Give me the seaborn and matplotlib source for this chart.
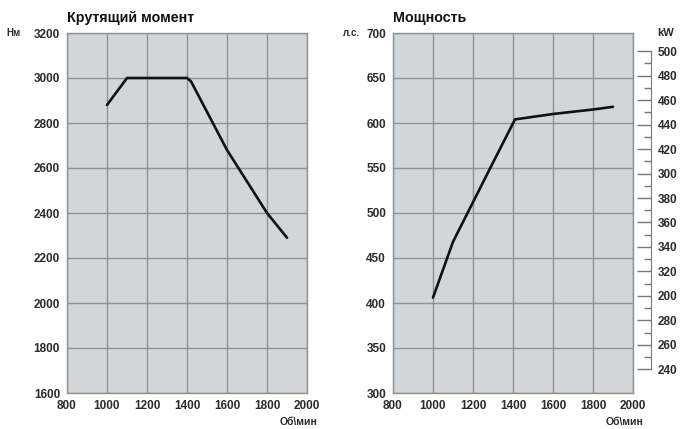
import numpy as np
import pandas as pd
import matplotlib
matplotlib.use("Agg")
import matplotlib.pyplot as plt
import seaborn as sns

# torque curve
torque_rpm = [1000, 1100, 1400, 1420, 1600, 1800, 1900]
torque_nm = [2880, 3000, 3000, 2985, 2680, 2400, 2290]

# power curve (hp)
power_rpm = [1000, 1100, 1200, 1300, 1410, 1600, 1800, 1900]
power_hp = [406, 468, 512, 556, 604, 610, 615, 618]

x_ticks = [800, 1000, 1200, 1400, 1600, 1800, 2000]
torque_ticks = [1600, 1800, 2000, 2200, 2400, 2600, 2800, 3000, 3200]
power_ticks = [300, 350, 400, 450, 500, 550, 600, 650, 700]
kw_ticks = [240, 260, 280, 300, 320, 340, 360, 380, 400, 420, 440, 460, 480, 500]
kw_labels = ["240", "260", "280", "200", "320", "340", "360", "380", "300",
             "420", "440", "460", "480", "500"]
HP_TO_KW = 0.7355

sns.set_style("white")
plt.rcParams['font.family'] = ['Liberation Sans', 'DejaVu Sans']

face = "#d2d6d9"
grid_c = "#8d9296"
text_c = "#2b2b2b"

fig = plt.figure(figsize=(6.8, 4.29), dpi=100)
W, H = 680, 429
ax1 = fig.add_axes([67 / W, 1 - 393 / H, 240 / W, 360 / H])
ax2 = fig.add_axes([393 / W, 1 - 393 / H, 240 / W, 360 / H])

df_t = pd.DataFrame({"rpm": torque_rpm, "val": torque_nm})
df_p = pd.DataFrame({"rpm": power_rpm, "val": power_hp})

for ax, df, yt, ylim in [(ax1, df_t, torque_ticks, (1600, 3200)),
                         (ax2, df_p, power_ticks, (300, 700))]:
    ax.set_facecolor(face)
    sns.lineplot(data=df, x="rpm", y="val", ax=ax, color="#111111",
                 linewidth=1.9, sort=False, zorder=3)
    ax.set_xlim(800, 2000)
    ax.set_ylim(*ylim)
    ax.set_xticks(x_ticks)
    ax.set_yticks(yt)
    ax.grid(True, color=grid_c, linewidth=1.0)
    ax.set_axisbelow(True)
    for s in ax.spines.values():
        s.set_color(grid_c)
        s.set_linewidth(1.0)
    ax.tick_params(length=0, pad=5, labelsize=8.5, colors=text_c)
    for lab in ax.get_xticklabels() + ax.get_yticklabels():
        lab.set_fontweight("bold")
    ax.set_xlabel("")
    ax.set_ylabel("")

# kW scale on the right of the power chart
sec = ax2.secondary_yaxis(258 / 240, functions=(lambda v: v * HP_TO_KW,
                                                lambda v: v / HP_TO_KW))
sec.set_yticks(kw_ticks)
sec.set_yticklabels(kw_labels)
sec.yaxis.set_minor_locator(matplotlib.ticker.FixedLocator(np.arange(250, 500, 20)))
sec.tick_params(which="major", direction="in", length=10, width=1.0, color="#777777",
                labelsize=8.5, labelcolor=text_c, pad=5)
sec.tick_params(which="minor", direction="in", length=5, width=1.0, color="#777777")
for s in sec.spines.values():
    s.set_color("#777777")
sec.spines["right"].set_bounds(240, 500)
for lab in sec.get_yticklabels():
    lab.set_fontweight("bold")

# titles and units
fig.text(67 / W, 1 - 18 / H, "Крутящий момент", fontsize=10.3, fontweight="bold",
         color="#111111", va="center", ha="left")
fig.text(393 / W, 1 - 18 / H, "Мощность", fontsize=10.3, fontweight="bold",
         color="#111111", va="center", ha="left")
fig.text(6 / W, 1 - 33 / H, "Нм", fontsize=7, fontweight="bold", color=text_c, va="center")
fig.text(343 / W, 1 - 33 / H, "л.с.", fontsize=7, fontweight="bold", color=text_c, va="center")
fig.text(657 / W, 1 - 33 / H, "kW", fontsize=8, fontweight="bold", color=text_c, va="center")
fig.text(318 / W, 1 - 422 / H, "Об\\мин", fontsize=7.5, fontweight="bold", color=text_c,
         va="center", ha="right")
fig.text(644 / W, 1 - 422 / H, "Об\\мин", fontsize=7.5, fontweight="bold", color=text_c,
         va="center", ha="right")

fig.savefig("out.png", dpi=100, facecolor="white")
